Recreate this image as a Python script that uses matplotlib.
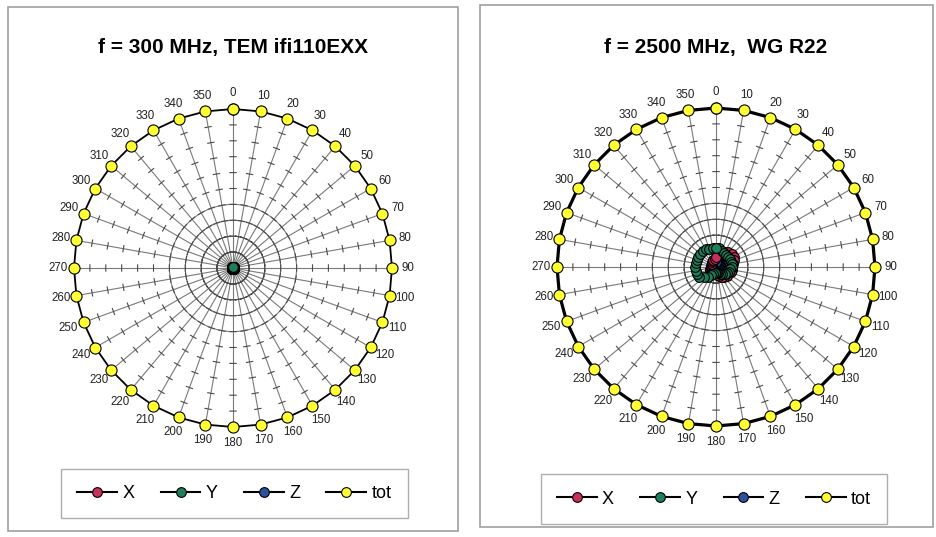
import matplotlib.pyplot as plt
import numpy as np
from matplotlib.lines import Line2D
from matplotlib.patches import Rectangle

plt.rcParams["font.family"] = ["Liberation Sans", "DejaVu Sans"]

# angoli di misura (gradi) e relative etichette
angles_deg = [0, 10, 20, 30, 40, 50, 60, 70, 80, 90, 100, 110,
              120, 130, 140, 150, 160, 170, 180, 190, 200, 210, 220, 230,
              240, 250, 260, 270, 280, 290, 300, 310, 320, 330, 340, 350]
angle_labels = [str(a) for a in angles_deg]

# f = 300 MHz, TEM
tot_300 = [10, 10, 10, 10, 10, 10, 10, 10, 10, 10, 10, 10,
           10, 10, 10, 10, 10, 10, 10, 10, 10, 10, 10, 10,
           10, 10, 10, 10, 10, 10, 10, 10, 10, 10, 10, 10]
x_300 = [0.05, 0.05, 0.05, 0.05, 0.05, 0.05, 0.05, 0.05, 0.05, 0.05, 0.05, 0.05,
         0.05, 0.05, 0.05, 0.05, 0.05, 0.05, 0.05, 0.05, 0.05, 0.05, 0.05, 0.05,
         0.05, 0.05, 0.05, 0.05, 0.05, 0.05, 0.05, 0.05, 0.05, 0.05, 0.05, 0.05]
y_300 = [0.05, 0.05, 0.05, 0.05, 0.05, 0.05, 0.05, 0.05, 0.05, 0.05, 0.05, 0.05,
         0.05, 0.05, 0.05, 0.05, 0.05, 0.05, 0.05, 0.05, 0.05, 0.05, 0.05, 0.05,
         0.05, 0.05, 0.05, 0.05, 0.05, 0.05, 0.05, 0.05, 0.05, 0.05, 0.05, 0.05]
z_300 = [0.03, 0.03, 0.03, 0.03, 0.03, 0.03, 0.03, 0.03, 0.03, 0.03, 0.03, 0.03,
         0.03, 0.03, 0.03, 0.03, 0.03, 0.03, 0.03, 0.03, 0.03, 0.03, 0.03, 0.03,
         0.03, 0.03, 0.03, 0.03, 0.03, 0.03, 0.03, 0.03, 0.03, 0.03, 0.03, 0.03]

# f = 2500 MHz, WG R22
tot_2500 = [10, 10, 10, 10, 10, 10, 10, 10, 10, 10, 10, 10,
            10, 10, 10, 10, 10, 10, 10, 10, 10, 10, 10, 10,
            10, 10, 10, 10, 10, 10, 10, 10, 10, 10, 10, 10]
x_2500 = [0.6, 0.8, 1.0, 1.1, 1.2, 1.3, 1.3, 1.2, 1.1, 1.0, 1.0, 1.0,
          0.9, 0.9, 0.8, 0.7, 0.6, 0.5, 0.4, 0.4, 0.4, 0.4, 0.4, 0.4,
          0.4, 0.4, 0.3, 0.3, 0.3, 0.3, 0.3, 0.3, 0.4, 0.4, 0.5, 0.5]
y_2500 = [1.2, 1.2, 1.1, 1.0, 1.0, 1.0, 1.0, 1.0, 1.0, 1.0, 0.9, 0.9,
          0.8, 0.7, 0.6, 0.5, 0.4, 0.4, 0.4, 0.4, 0.5, 0.6, 0.8, 1.0,
          1.2, 1.3, 1.3, 1.3, 1.3, 1.3, 1.3, 1.3, 1.3, 1.3, 1.2, 1.2]
z_2500 = [0.3, 0.3, 0.3, 0.3, 0.3, 0.3, 0.3, 0.3, 0.3, 0.3, 0.3, 0.3,
          0.3, 0.3, 0.3, 0.3, 0.3, 0.3, 0.3, 0.3, 0.3, 0.3, 0.3, 0.3,
          0.3, 0.3, 0.3, 0.3, 0.3, 0.3, 0.3, 0.3, 0.3, 0.3, 0.3, 0.3]

col_x = "#c8305a"
col_y = "#1e7f5a"
col_z = "#2f4f9f"
col_tot = "#ffff33"


def closed(values):
    """Chiude la serie radar ripetendo il primo punto."""
    return np.append(np.asarray(values, dtype=float), values[0])


def radar_panel(fig, rect, title, title_y, series, legend_xy):
    theta = np.deg2rad(closed(angles_deg))

    ax = fig.add_axes(rect, projection="polar")
    ax.set_theta_zero_location("N")
    ax.set_theta_direction(-1)
    ax.set_ylim(0, 10)
    ax.spines["polar"].set_visible(False)
    ax.set_thetagrids(angles_deg, angle_labels, fontsize=8.3, color="#222222")
    ax.tick_params(axis="x", pad=1)
    ax.set_rgrids([1, 2, 3, 4], labels=[""] * 4)
    ax.grid(True, color="#7a7a7a", linewidth=0.8)

    # tacche minori sui raggi
    h = 0.2
    tt, rr = [], []
    for a in np.deg2rad(angles_deg):
        for r in range(1, 10):
            d = np.arctan(h / r)
            re = np.hypot(r, h)
            tt += [a - d, a + d, np.nan]
            rr += [re, re, np.nan]
    ax.plot(tt, rr, color="#4a4a4a", linewidth=0.8, zorder=2)

    for values, color, lw, ms, z in series:
        ax.plot(theta, closed(values), color="black", linewidth=lw, marker="o",
                markersize=ms, markerfacecolor=color, markeredgecolor="black",
                markeredgewidth=0.8, zorder=z, clip_on=False)

    fig.text(rect[0] + rect[2] / 2, title_y, title, ha="center", va="center",
             fontsize=15, fontweight="bold")

    handles = [Line2D([], [], color="black", lw=1.5, marker="o", markersize=7,
                      markerfacecolor=c, markeredgecolor="black", markeredgewidth=0.8)
               for c in (col_x, col_y, col_z, col_tot)]
    leg = fig.legend(handles, ["X", "Y", "Z", "tot"], loc="center",
                     bbox_to_anchor=legend_xy, ncol=4, fontsize=13, frameon=True,
                     fancybox=False, edgecolor="#999999", handlelength=2.2,
                     handletextpad=0.3, columnspacing=1.45, borderpad=0.9)
    leg.get_frame().set_linewidth(1.0)
    return ax


W, H = 937, 537
fig = plt.figure(figsize=(W / 100, H / 100), dpi=100)

# cornici dei due pannelli
fig.patches.append(Rectangle((8 / W, 1 - 531 / H), 450 / W, 524 / H, transform=fig.transFigure,
                             fill=False, edgecolor="#a0a0a0", linewidth=1.2))
fig.patches.append(Rectangle((480 / W, 1 - 527 / H), 453 / W, 522 / H, transform=fig.transFigure,
                             fill=False, edgecolor="#a0a0a0", linewidth=1.2))

R = 159
radar_panel(fig, [(233 - R) / W, 1 - (268 + R) / H, 2 * R / W, 2 * R / H],
            "f = 300 MHz, TEM ifi110EXX", 1 - 47 / H,
            [(z_300, col_z, 1.0, 7, 3), (x_300, col_x, 1.0, 7, 4),
             (y_300, col_y, 1.0, 7, 5), (tot_300, col_tot, 1.3, 8, 6)],
            (234.5 / W, 1 - 493.5 / H))
radar_panel(fig, [(716 - R) / W, 1 - (267 + R) / H, 2 * R / W, 2 * R / H],
            "f = 2500 MHz,  WG R22", 1 - 47 / H,
            [(z_2500, col_z, 1.0, 7, 3), (x_2500, col_x, 1.0, 7, 4),
             (y_2500, col_y, 1.0, 7, 5), (tot_2500, col_tot, 2.3, 8, 6)],
            (714 / W, 1 - 499 / H))

fig.savefig("out.png", dpi=100)
